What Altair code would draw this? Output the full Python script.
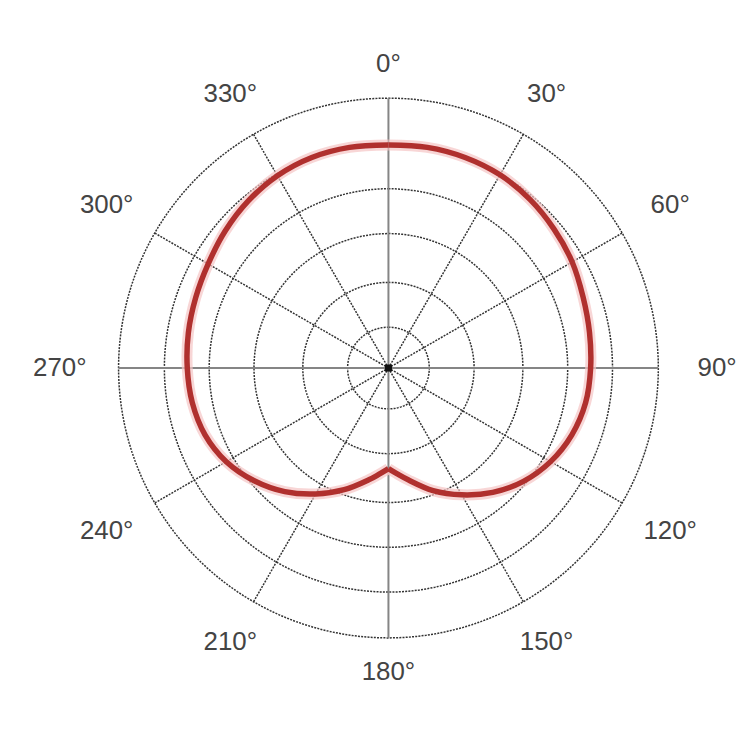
import altair as alt
import pandas as pd

# ---- data (compass angle in degrees, pattern radius) ----
angles_right = [0, 10, 20, 30, 40, 50, 60, 70, 80, 90, 100, 110, 120, 130, 140, 150, 160, 170, 175, 180]
values_right = [224, 225, 225, 224, 221, 217, 213, 208, 205, 203, 201, 196, 188, 177, 163, 147, 131, 114, 107, 101]
angles_left = [180, 185, 190, 200, 210, 220, 230, 240, 250, 260, 270, 280, 290, 300, 310, 320, 330, 340, 350, 360]
values_left = [101, 107, 114, 130, 146, 162, 176, 188, 196, 200, 202, 204, 206, 209, 214, 219, 223, 225, 225, 224]

ring_levels = [41, 86, 135, 180, 225, 271]
axis_angles = [0, 90, 180, 270]
diag_angles = [30, 60, 120, 150, 210, 240, 300, 330]
label_angles = [0, 30, 60, 90, 120, 150, 180, 210, 240, 270, 300, 330]
tick_labels = ["0°", "30°", "60°", "90°", "120°", "150°", "180°", "210°", "240°", "270°", "300°", "330°"]

OUTER = 271
W, H = 720, 720
XMIN, XMAX = -377, 343
YMIN, YMAX = -365, 355

curve_df = pd.DataFrame(
    {"angle": angles_right + angles_left,
     "r": values_right + values_left,
     "side": ["right"] * len(angles_right) + ["left"] * len(angles_left)}
)
rings_df = pd.DataFrame({"r": ring_levels})
axes_df = pd.DataFrame({"angle": axis_angles})
diag_df = pd.DataFrame({"angle": diag_angles})
labels_df = pd.DataFrame({"angle": label_angles, "label": tick_labels})
center_df = pd.DataFrame({"cx": [0], "cy": [0]})

xs = alt.Scale(domain=[XMIN, XMAX], nice=False, zero=False)
ys = alt.Scale(domain=[YMIN, YMAX], nice=False, zero=False)


def X(f):
    return alt.X(f, type="quantitative", scale=xs, axis=None)


def Y(f):
    return alt.Y(f, type="quantitative", scale=ys, axis=None)


rings = alt.Chart(rings_df).transform_calculate(
    a="sequence(0, 362, 2)"
).transform_flatten(["a"]).transform_calculate(
    rx="datum.r * sin(datum.a * PI / 180)",
    ry="datum.r * cos(datum.a * PI / 180)",
).mark_line(
    color="#333333", strokeWidth=1.5, strokeDash=[2, 1.2]
).encode(x=X("rx"), y=Y("ry"), detail="r:N", order="a:Q")

spoke_calc = dict(
    x0="0", y0="0",
    x1=f"{OUTER} * sin(datum.angle * PI / 180)",
    y1=f"{OUTER} * cos(datum.angle * PI / 180)",
)

diag = alt.Chart(diag_df).transform_calculate(**spoke_calc).mark_rule(
    color="#333333", strokeWidth=1.5, strokeDash=[2, 1.2]
).encode(x=X("x0"), y=Y("y0"), x2=alt.X2("x1"), y2=alt.Y2("y1"))

axes = alt.Chart(axes_df).transform_calculate(**spoke_calc).mark_rule(
    color="#858585", strokeWidth=2
).encode(x=X("x0"), y=Y("y0"), x2=alt.X2("x1"), y2=alt.Y2("y1"))

curve_calc = dict(
    px="datum.r * sin(datum.angle * PI / 180)",
    py="datum.r * cos(datum.angle * PI / 180)",
)

glow = alt.Chart(curve_df).transform_calculate(**curve_calc).mark_line(
    color="#f5c4c4", strokeWidth=11, opacity=0.7, interpolate="catmull-rom"
).encode(x=X("px"), y=Y("py"), detail="side:N", order="angle:Q")

curve = alt.Chart(curve_df).transform_calculate(**curve_calc).mark_line(
    color="#b0302e", strokeWidth=5.5, interpolate="catmull-rom"
).encode(x=X("px"), y=Y("py"), detail="side:N", order="angle:Q")

dot = alt.Chart(center_df).mark_square(size=50, color="#111111", opacity=1).encode(
    x=X("cx"), y=Y("cy")
)

labels = alt.Chart(labels_df).transform_calculate(
    lr="305 + 25 * abs(sin(datum.angle * PI / 180))",
).transform_calculate(
    lx="datum.lr * sin(datum.angle * PI / 180)",
    ly="datum.lr * cos(datum.angle * PI / 180)",
).mark_text(
    font="Liberation Sans", fontSize=26, color="#444444", align="center", baseline="middle"
).encode(x=X("lx"), y=Y("ly"), text="label:N")

chart = alt.layer(rings, diag, axes, glow, curve, dot, labels).properties(
    width=W, height=H, background="white"
).configure_view(stroke=None)

chart.save("out.html", embed_options={"renderer": "svg", "actions": False})
